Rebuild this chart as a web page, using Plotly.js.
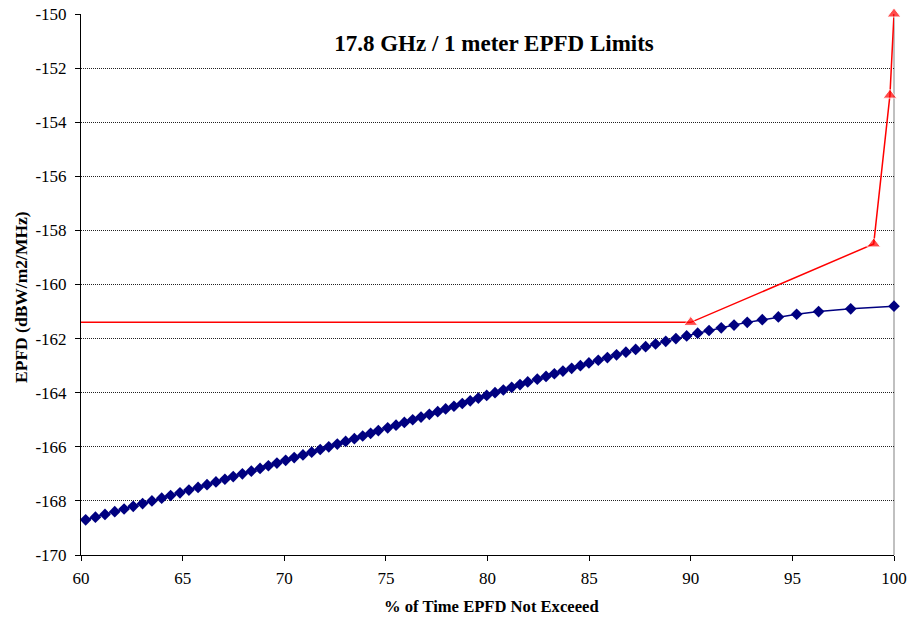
<!DOCTYPE html>
<html>
<head>
<meta charset="utf-8">
<script src="https://cdn.plot.ly/plotly-3.0.1.min.js"></script>
<style>html,body{margin:0;padding:0;background:#fff;}#chart{width:909px;height:618px;}</style>
</head>
<body>
<div id="chart"></div>
<script>
// Blue series: % of time EPFD not exceeded vs EPFD (dBW/m2/MHz)
var blueX = [60.23, 60.71, 61.18, 61.66, 62.12, 62.57, 63.03, 63.49, 63.97, 64.41,
             64.87, 65.31, 65.76, 66.20, 66.64, 67.08, 67.49, 67.94, 68.38, 68.81,
             69.22, 69.64, 70.07, 70.49, 70.92, 71.35, 71.77, 72.19, 72.61, 73.02,
             73.45, 73.86, 74.25, 74.63, 75.09, 75.50, 75.91, 76.32, 76.73, 77.14,
             77.55, 77.94, 78.35, 78.76, 79.15, 79.55, 79.96, 80.37, 80.78, 81.19,
             81.60, 81.98, 82.45, 82.88, 83.29, 83.71, 84.14, 84.57, 84.99, 85.45,
             85.90, 86.35, 86.81, 87.29, 87.78, 88.27, 88.77, 89.27, 89.80, 90.34,
             90.90, 91.50, 92.13, 92.78, 93.52, 94.31, 95.21, 96.29, 97.87, 100.0];
var blueY = [-168.7, -168.6, -168.5, -168.4, -168.3, -168.2, -168.1, -168.0, -167.9, -167.8,
             -167.7, -167.6, -167.5, -167.4, -167.3, -167.2, -167.1, -167.0, -166.9, -166.8,
             -166.7, -166.6, -166.5, -166.4, -166.3, -166.2, -166.1, -166.0, -165.9, -165.8,
             -165.7, -165.6, -165.5, -165.4, -165.3, -165.2, -165.1, -165.0, -164.9, -164.8,
             -164.7, -164.6, -164.5, -164.4, -164.3, -164.2, -164.1, -164.0, -163.9, -163.8,
             -163.7, -163.6, -163.5, -163.4, -163.3, -163.2, -163.1, -163.0, -162.9, -162.8,
             -162.7, -162.6, -162.5, -162.4, -162.3, -162.2, -162.1, -162.0, -161.9, -161.8,
             -161.7, -161.6, -161.5, -161.4, -161.3, -161.2, -161.1, -161.0, -160.9, -160.8];

// Red series: EPFD limit mask
var redX = [60, 90, 99, 99.8, 100];
var redY = [-161.4, -161.4, -158.5, -153.0, -150.0];

// Tick labels
var xTickVals = [60, 65, 70, 75, 80, 85, 90, 95, 100];
var xTickText = ["60", "65", "70", "75", "80", "85", "90", "95", "100"];
var yTickVals = [-170, -168, -166, -164, -162, -160, -158, -156, -154, -152, -150];
var yTickText = ["-170", "-168", "-166", "-164", "-162", "-160", "-158", "-156", "-154", "-152", "-150"];

var titleText = "17.8 GHz / 1 meter EPFD Limits";
var xTitle = "% of Time EPFD Not Exceeed";
var yTitle = "EPFD (dBW/m2/MHz)";

var serif = "'Liberation Serif', 'DejaVu Serif', serif";

var traces = [
  {
    x: blueX, y: blueY, type: "scatter", mode: "lines+markers",
    line: {color: "#000080", width: 1.5},
    marker: {symbol: "diamond", size: 9, color: "#000080"},
    cliponaxis: false, hoverinfo: "x+y"
  },
  {
    x: redX, y: redY, type: "scatter", mode: "lines+markers",
    line: {color: "#ff0000", width: 1.5},
    marker: {symbol: "triangle-up", size: [0, 12, 12, 12, 12], color: "#ff0000"},
    cliponaxis: false, hoverinfo: "x+y"
  }
];

var layout = {
  width: 909, height: 618,
  margin: {l: 81, r: 15, t: 14, b: 63},
  paper_bgcolor: "#ffffff", plot_bgcolor: "#ffffff",
  showlegend: false,
  font: {family: serif, color: "#000000", size: 17},
  title: {
    text: "<b>" + titleText + "</b>",
    font: {family: serif, size: 23, color: "#000000"},
    xref: "paper", x: 0.508, xanchor: "center",
    yref: "container", y: 1 - 43/618, yanchor: "middle"
  },
  xaxis: {
    range: [60, 100], autorange: false,
    tickmode: "array", tickvals: xTickVals, ticktext: xTickText,
    ticks: "outside", ticklen: 5, tickcolor: "#000", tickwidth: 1,
    ticklabelstandoff: 3,
    showline: true, linecolor: "#000", linewidth: 1,
    showgrid: false, zeroline: false,
    tickfont: {family: serif, size: 17, color: "#000"}
  },
  yaxis: {
    range: [-170, -150], autorange: false,
    tickmode: "array", tickvals: yTickVals, ticktext: yTickText,
    ticks: "outside", ticklen: 5, tickcolor: "#000", tickwidth: 1,
    ticklabelstandoff: 5,
    showline: true, linecolor: "#000", linewidth: 1,
    showgrid: true, gridcolor: "#222222", gridwidth: 1, griddash: "1px,1px",
    zeroline: false,
    tickfont: {family: serif, size: 17, color: "#000"}
  },
  annotations: [
    {text: "<b>" + xTitle + "</b>", xref: "paper", yref: "paper",
     x: 0.505, y: -0.096, xanchor: "center", yanchor: "middle", showarrow: false,
     font: {family: serif, size: 16.6, color: "#000"}},
    {text: "<b>" + yTitle + "</b>", xref: "paper", yref: "paper",
     x: -0.0738, y: 0.477, xanchor: "center", yanchor: "middle", showarrow: false,
     textangle: -90, font: {family: serif, size: 17.5, color: "#000"}}
  ],
  shapes: [
    {type: "line", xref: "paper", yref: "paper", x0: 1, x1: 1, y0: 0, y1: 1,
     line: {color: "#c0c0c0", width: 2}, layer: "below"}
  ]
};

Plotly.newPlot("chart", traces, layout, {displayModeBar: false, staticPlot: true});
</script>
</body>
</html>
